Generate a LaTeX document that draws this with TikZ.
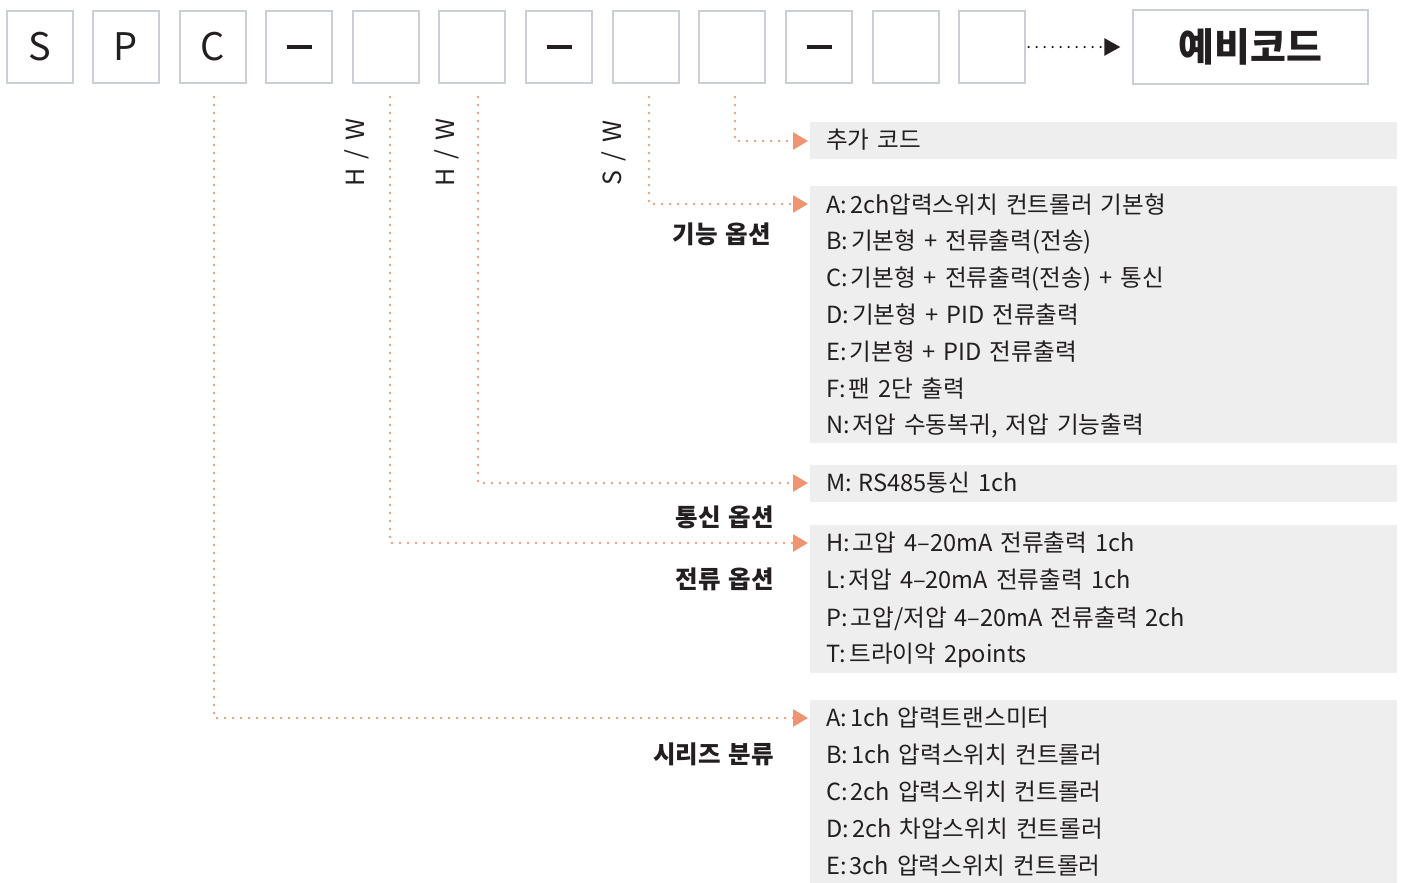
\documentclass[tikz,border=0pt]{standalone}
\usepackage{fontspec}
\setmainfont{Noto Sans CJK KR}
\usetikzlibrary{arrows.meta}
\definecolor{dotc}{HTML}{F29A7C}
\definecolor{tipc}{HTML}{F09470}
\definecolor{boxc}{HTML}{C9CED8}
\definecolor{panelc}{HTML}{EEEEEE}
\definecolor{txt}{HTML}{231F20}
\newcommand{\cln}{:\kern3pt}
\newcommand{\dashbar}{\rule[-2pt]{25pt}{4pt}}
\newcommand{\itemfont}{\fontsize{23.6}{26}\selectfont\spaceskip 8pt plus 1pt\relax}
\newcommand{\headfont}{\fontsize{24.5}{28}\selectfont\bfseries\spaceskip 8pt\relax}
\newcommand{\rotfont}{\fontsize{25}{28}\selectfont}
\newcommand{\wsp}{\hspace{9pt}}
\begin{document}
\begin{tikzpicture}[x=1pt,y=-1pt,
  codebox/.style={draw=boxc, line width=1.3pt, minimum width=66pt, minimum height=72pt, inner sep=0pt, text=txt, font=\fontsize{38}{40}\selectfont},
  bigbox/.style={draw=boxc, line width=1.3pt, minimum width=235pt, minimum height=74pt, inner sep=0pt, text=txt, font=\fontsize{39}{42}\selectfont\bfseries},
  panel/.style={fill=panelc, anchor=north west, inner sep=0pt, minimum width=587pt},
  item/.style={anchor=base west, inner sep=0pt, text=txt, font=\itemfont},
  head/.style={anchor=base east, inner sep=0pt, text=txt, font=\headfont},
  rot/.style={rotate=90, inner sep=0pt, text=txt, font=\rotfont},
  conn/.style={draw=dotc, line width=2.6pt, line cap=round, dash pattern=on 0pt off 8pt, -{Triangle[length=15pt,width=17pt,color=tipc]}},
  bconn/.style={draw=txt, line width=2.4pt, line cap=round, dash pattern=on 0pt off 8pt, -{Triangle[length=16pt,width=17pt,color=txt]}}
]
\useasboundingbox (0,0) rectangle (1403,883);

% code boxes
\node[codebox] (b1) at (40,47) {S};
\node[codebox] (b2) at (126,47) {P};
\node[codebox] (b3) at (213,47) {C};
\node[codebox] (b4) at (299,47) {\dashbar};
\node[codebox] (b5) at (386,47) {};
\node[codebox] (b6) at (472,47) {};
\node[codebox] (b7) at (559,47) {\dashbar};
\node[codebox] (b8) at (646,47) {};
\node[codebox] (b9) at (732,47) {};
\node[codebox] (b10) at (819,47) {\dashbar};
\node[codebox] (b11) at (906,47) {};
\node[codebox] (b12) at (992,47) {};
\node[bigbox] (spare) at (1250.5,47) {예비코드};
\draw[bconn] ([xshift=3pt]b12.east) -- ([xshift=-12pt]spare.west);

% panels
\node[panel, minimum height=37pt] (p1) at (810,122) {};
\node[panel, minimum height=257pt] (p2) at (810,186) {};
\node[panel, minimum height=37pt] (p3) at (810,465) {};
\node[panel, minimum height=148pt] (p4) at (810,525) {};
\node[panel, minimum height=183pt] (p5) at (810,700) {};

% rotated labels
\node[rot] (hw1) at (357,153) {H\wsp/\wsp W};
\node[rot] (hw2) at (447,153) {H\wsp/\wsp W};
\node[rot] (sw) at (614,153) {S\wsp/\wsp W};

% headings
\node[head] (h1) at (771,243) {기능 옵션};
\node[head] (h2) at (774,526) {통신 옵션};
\node[head] (h3) at (774,588) {전류 옵션};
\node[head] (h4) at (774,763) {시리즈 분류};

% items
\node[item] (l11) at (826,148) {추가 코드};
\node[item] (l21) at (826,213) {A\cln 2ch압력스위치 컨트롤러 기본형};
\node[item] (l22) at (826,249) {B\cln 기본형 + 전류출력(전송)};
\node[item] (l23) at (826,286) {C\cln 기본형 + 전류출력(전송) + 통신};
\node[item] (l24) at (826,323) {D\cln 기본형 + PID 전류출력};
\node[item] (l25) at (826,360) {E\cln 기본형 + PID 전류출력};
\node[item] (l26) at (826,397) {F\cln 팬 2단 출력};
\node[item] (l27) at (826,433) {N\cln 저압 수동복귀, 저압 기능출력};
\node[item] (l31) at (826,491) {M\cln\kern4pt RS485통신 1ch};
\node[item] (l41) at (826,551) {H\cln 고압 4–20mA 전류출력 1ch};
\node[item] (l42) at (826,588) {L\cln 저압 4–20mA 전류출력 1ch};
\node[item] (l43) at (826,626) {P\cln 고압/저압 4–20mA 전류출력 2ch};
\node[item] (l44) at (826,662) {T\cln 트라이악 2points};
\node[item] (l51) at (826,726) {A\cln 1ch 압력트랜스미터};
\node[item] (l52) at (826,763) {B\cln 1ch 압력스위치 컨트롤러};
\node[item] (l53) at (826,800) {C\cln 2ch 압력스위치 컨트롤러};
\node[item] (l54) at (826,837) {D\cln 2ch 차압스위치 컨트롤러};
\node[item] (l55) at (826,874) {E\cln 3ch 압력스위치 컨트롤러};

% connector start points
\coordinate (s1) at (735,97);
\coordinate (s2) at (649,97);
\coordinate (s3) at (478,97);
\coordinate (s4) at (390,97);
\coordinate (s5) at (214,97);
\coordinate (t1) at (808,141);
\coordinate (t2) at (808,204);
\coordinate (t3) at (808,483);
\coordinate (t4) at (808,543);
\coordinate (t5) at (808,718);

\draw[conn] (s1) |- (t1);
\draw[conn] (s2) |- (t2);
\draw[conn] (s3) |- (t3);
\draw[conn] (s4) |- (t4);
\draw[conn] (s5) |- (t5);
\end{tikzpicture}
\end{document}
